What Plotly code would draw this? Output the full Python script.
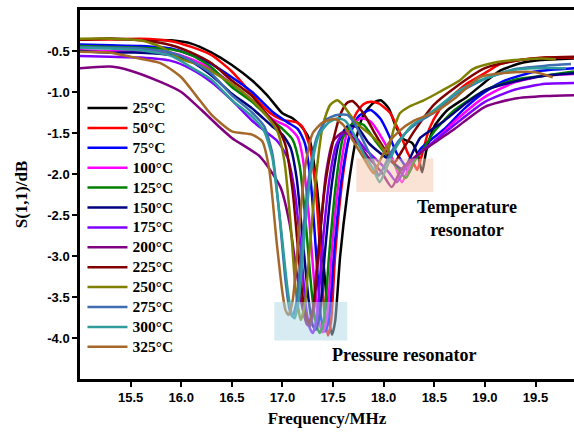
import plotly.graph_objects as go

# ---------------- data ----------------
temps = ["25°C", "50°C", "75°C", "100°C", "125°C", "150°C", "175°C",
         "200°C", "225°C", "250°C", "275°C", "300°C", "325°C"]
colors = ["#000000", "#FF0000", "#0000FF", "#FF00FF", "#008000", "#000080",
          "#8000FF", "#800080", "#800000", "#808000", "#3E6DB0", "#2E9C9C", "#A5682A"]

f25 = [15.0,15.3,15.6,15.9,16.1,16.3,16.5,16.7,16.85,17.0,17.1,17.2,17.27,17.34,17.41,17.46,17.49,17.52,17.57,17.64,17.72,17.8,17.9,17.97,18.05,18.12,18.2,18.28,18.34,18.38,18.42,18.5,18.63,18.82,19.0,19.15,19.35,19.55,19.88]
s25 = [-0.36,-0.35,-0.36,-0.37,-0.41,-0.52,-0.67,-0.86,-1.04,-1.26,-1.32,-1.44,-1.59,-2.15,-3.15,-3.8,-3.96,-3.8,-3.0,-2.25,-1.62,-1.28,-1.13,-1.10,-1.2,-1.42,-1.58,-1.62,-1.78,-1.98,-1.72,-1.42,-1.22,-1.06,-0.88,-0.74,-0.65,-0.61,-0.59]

f50 = [15.0,15.3,15.6,15.9,16.1,16.3,16.5,16.68,16.78,16.88,17.0,17.14,17.2,17.27,17.33,17.38,17.42,17.45,17.48,17.52,17.58,17.65,17.72,17.8,17.87,17.95,18.06,18.16,18.24,18.3,18.33,18.37,18.45,18.55,18.63,18.82,19.0,19.15,19.4,19.6,19.88]
s50 = [-0.36,-0.36,-0.35,-0.38,-0.45,-0.55,-0.75,-1.0,-1.14,-1.26,-1.34,-1.37,-1.43,-1.67,-2.2,-3.1,-3.75,-3.97,-3.8,-3.0,-2.2,-1.6,-1.28,-1.15,-1.12,-1.14,-1.25,-1.5,-1.75,-1.88,-1.95,-1.8,-1.45,-1.22,-1.1,-0.9,-0.77,-0.66,-0.6,-0.58,-0.58]

f75 = [15.0,15.3,15.6,15.9,16.1,16.3,16.5,16.7,16.9,17.05,17.15,17.22,17.28,17.34,17.38,17.42,17.46,17.51,17.58,17.66,17.75,17.87,17.97,18.06,18.13,18.2,18.25,18.3,18.36,18.45,18.6,18.8,19.0,19.2,19.5,19.88]
s75 = [-0.42,-0.43,-0.44,-0.47,-0.55,-0.66,-0.82,-1.0,-1.24,-1.37,-1.45,-1.62,-2.1,-3.1,-3.75,-3.92,-3.75,-2.95,-2.1,-1.55,-1.3,-1.22,-1.33,-1.55,-1.75,-1.88,-1.98,-1.85,-1.7,-1.6,-1.45,-1.2,-1.0,-0.86,-0.75,-0.71]

f100 = [15.0,15.3,15.6,15.9,16.1,16.3,16.5,16.7,16.9,17.05,17.15,17.2,17.26,17.32,17.36,17.40,17.44,17.49,17.56,17.64,17.77,17.87,18.0,18.1,18.18,18.25,18.35,18.5,18.7,19.0,19.3,19.6,19.88]
s100 = [-0.49,-0.5,-0.5,-0.52,-0.6,-0.72,-0.9,-1.1,-1.33,-1.42,-1.55,-1.8,-2.5,-3.4,-3.8,-3.93,-3.75,-2.9,-2.05,-1.5,-1.32,-1.36,-1.6,-1.85,-2.1,-1.92,-1.75,-1.6,-1.36,-1.06,-0.88,-0.8,-0.78]

f125 = [15.0,15.3,15.6,15.9,16.1,16.3,16.5,16.7,16.9,17.0,17.1,17.17,17.23,17.29,17.33,17.37,17.41,17.46,17.53,17.6,17.7,17.8,17.92,18.05,18.15,18.22,18.3,18.4,18.5,18.7,19.0,19.3,19.6,19.88]
s125 = [-0.44,-0.45,-0.46,-0.48,-0.55,-0.7,-0.94,-1.12,-1.35,-1.45,-1.58,-1.9,-2.6,-3.45,-3.82,-3.94,-3.78,-3.0,-2.1,-1.55,-1.38,-1.4,-1.6,-1.8,-1.95,-2.05,-1.85,-1.68,-1.48,-1.22,-0.98,-0.85,-0.8,-0.75]

f150 = [15.0,15.3,15.6,15.9,16.1,16.3,16.5,16.7,16.9,17.0,17.08,17.14,17.2,17.26,17.3,17.33,17.37,17.42,17.49,17.56,17.64,17.74,17.85,17.97,18.08,18.15,18.2,18.27,18.36,18.46,18.6,18.8,19.0,19.3,19.6,19.88]
s150 = [-0.5,-0.52,-0.52,-0.55,-0.63,-0.8,-1.02,-1.2,-1.42,-1.52,-1.68,-2.05,-2.8,-3.55,-3.85,-3.9,-3.7,-2.95,-2.1,-1.6,-1.42,-1.43,-1.62,-1.75,-1.85,-1.92,-1.95,-1.78,-1.56,-1.47,-1.35,-1.15,-0.98,-0.87,-0.8,-0.77]

f175 = [15.0,15.3,15.6,15.9,16.1,16.3,16.5,16.7,16.85,16.95,17.05,17.12,17.18,17.23,17.27,17.30,17.34,17.39,17.46,17.53,17.6,17.7,17.82,17.95,18.05,18.13,18.22,18.35,18.5,18.7,19.0,19.3,19.6,19.88]
s175 = [-0.56,-0.57,-0.58,-0.62,-0.72,-0.88,-1.1,-1.35,-1.5,-1.6,-1.8,-2.2,-2.9,-3.6,-3.88,-3.94,-3.75,-2.95,-2.1,-1.65,-1.5,-1.52,-1.7,-1.85,-1.98,-2.1,-1.92,-1.75,-1.6,-1.4,-1.12,-0.97,-0.9,-0.89]

f200 = [15.0,15.3,15.5,15.8,16.0,16.2,16.38,16.5,16.78,16.98,17.07,17.14,17.2,17.24,17.27,17.31,17.36,17.43,17.5,17.6,17.7,17.85,17.98,18.08,18.17,18.3,18.5,18.7,19.0,19.3,19.6,19.88]
s200 = [-0.71,-0.69,-0.74,-0.88,-1.0,-1.22,-1.43,-1.56,-1.79,-2.16,-2.6,-3.2,-3.65,-3.83,-3.86,-3.65,-2.9,-2.0,-1.6,-1.49,-1.56,-1.8,-1.98,-2.16,-1.95,-1.8,-1.62,-1.45,-1.18,-1.08,-1.05,-1.04]

f225 = [15.0,15.3,15.6,15.9,16.1,16.3,16.5,16.7,16.85,16.95,17.03,17.1,17.16,17.21,17.26,17.3,17.35,17.42,17.5,17.58,17.64,17.69,17.75,17.83,17.92,18.02,18.1,18.18,18.3,18.5,18.7,19.0,19.3,19.6,19.88]
s225 = [-0.36,-0.35,-0.37,-0.43,-0.52,-0.65,-0.86,-1.05,-1.28,-1.42,-1.65,-2.2,-3.0,-3.6,-3.82,-3.65,-3.0,-2.15,-1.6,-1.25,-1.13,-1.11,-1.18,-1.32,-1.52,-1.72,-1.87,-1.72,-1.48,-1.15,-0.95,-0.71,-0.62,-0.58,-0.57]

f250 = [15.0,15.3,15.6,15.8,16.0,16.2,16.5,16.7,16.85,16.95,17.02,17.08,17.13,17.18,17.22,17.27,17.33,17.40,17.47,17.54,17.6,17.67,17.75,17.85,17.95,18.03,18.1,18.16,18.25,18.4,18.55,18.75,18.88,19.1,19.3,19.55,19.7]
s250 = [-0.35,-0.35,-0.37,-0.45,-0.6,-0.68,-0.9,-1.1,-1.3,-1.48,-1.85,-2.6,-3.4,-3.78,-3.6,-2.9,-2.05,-1.4,-1.16,-1.10,-1.16,-1.28,-1.4,-1.5,-1.62,-1.75,-1.45,-1.26,-1.18,-1.1,-1.0,-0.86,-0.72,-0.64,-0.61,-0.59,-0.6]

f275 = [15.0,15.3,15.6,15.9,16.1,16.3,16.5,16.7,16.82,16.9,16.97,17.03,17.07,17.10,17.14,17.19,17.26,17.34,17.44,17.54,17.64,17.72,17.82,17.9,17.95,18.0,18.08,18.2,18.35,18.5,18.7,19.0,19.3,19.6,19.85]
s275 = [-0.45,-0.46,-0.47,-0.52,-0.62,-0.78,-1.04,-1.25,-1.42,-1.75,-2.5,-3.3,-3.65,-3.74,-3.55,-2.9,-2.05,-1.55,-1.33,-1.28,-1.28,-1.4,-1.65,-1.85,-2.02,-1.92,-1.72,-1.52,-1.36,-1.25,-1.04,-0.84,-0.72,-0.68,-0.66]

f300 = [15.0,15.3,15.6,15.9,16.1,16.3,16.5,16.7,16.82,16.9,16.98,17.05,17.09,17.12,17.16,17.21,17.28,17.36,17.46,17.55,17.62,17.7,17.8,17.9,17.96,18.02,18.1,18.26,18.5,18.75,18.95,19.28,19.5,19.8]
s300 = [-0.46,-0.47,-0.49,-0.56,-0.7,-0.85,-1.1,-1.3,-1.48,-1.8,-2.6,-3.4,-3.7,-3.76,-3.55,-2.85,-1.98,-1.52,-1.37,-1.32,-1.35,-1.5,-1.75,-1.95,-2.1,-1.95,-1.72,-1.43,-1.22,-0.98,-0.86,-0.73,-0.71,-0.71]

f325 = [15.0,15.3,15.5,15.8,16.0,16.15,16.3,16.5,16.7,16.8,16.87,16.94,17.0,17.03,17.06,17.1,17.15,17.22,17.3,17.4,17.52,17.6,17.7,17.8,17.9,17.97,18.05,18.15,18.3,18.5,18.7,18.95,19.28,19.5,19.67]
s325 = [-0.51,-0.52,-0.57,-0.65,-0.82,-1.05,-1.28,-1.48,-1.52,-1.6,-1.95,-2.8,-3.45,-3.66,-3.72,-3.55,-2.9,-1.95,-1.5,-1.37,-1.33,-1.4,-1.6,-1.8,-1.99,-1.82,-1.62,-1.48,-1.35,-1.25,-1.08,-0.82,-0.76,-0.76,-0.82]

freqs = [f25, f50, f75, f100, f125, f150, f175, f200, f225, f250, f275, f300, f325]
s11 = [s25, s50, s75, s100, s125, s150, s175, s200, s225, s250, s275, s300, s325]

x_ticks = [15.5, 16.0, 16.5, 17.0, 17.5, 18.0, 18.5, 19.0, 19.5]
x_labels = ["15.5", "16.0", "16.5", "17.0", "17.5", "18.0", "18.5", "19.0", "19.5"]
y_ticks = [-0.5, -1.0, -1.5, -2.0, -2.5, -3.0, -3.5, -4.0]
y_labels = ["-0.5", "-1.0", "-1.5", "-2.0", "-2.5", "-3.0", "-3.5", "-4.0"]

# highlight boxes (data coordinates)
press_box = dict(x0=16.92, x1=17.64, y0=-4.03, y1=-3.56)
temp_box = dict(x0=17.73, x1=18.49, y0=-2.22, y1=-1.81)

# ---------------- figure ----------------
SERIF = "Liberation Serif, Times New Roman, serif"
SANS = "Liberation Sans, Arial, sans-serif"

fig = go.Figure()
for name, col, fx, sy in zip(temps, colors, freqs, s11):
    fig.add_trace(go.Scatter(
        x=fx, y=sy, mode="lines",
        name="<span style='font-size:15.5px'><b>" + name + "</b></span>",
        line=dict(color=col, width=2.5, shape="spline", smoothing=0.6),
    ))

fig.add_shape(type="rect", xref="x", yref="y", layer="above",
              fillcolor="rgba(173,216,230,0.5)", line=dict(width=0), **press_box)
fig.add_shape(type="rect", xref="x", yref="y", layer="above",
              fillcolor="rgba(245,200,170,0.5)", line=dict(width=0), **temp_box)

fig.add_annotation(x=18.82, y=-2.54, xref="x", yref="y", showarrow=False,
                   text="<b>Temperature<br>resonator</b>",
                   font=dict(family=SERIF, size=18, color="black"))
fig.add_annotation(x=18.20, y=-4.21, xref="x", yref="y", showarrow=False,
                   text="<b>Pressure resonator</b>",
                   font=dict(family=SERIF, size=18, color="black"))

fig.update_layout(
    width=574, height=436,
    margin=dict(l=80, r=0, t=10, b=57),
    paper_bgcolor="white", plot_bgcolor="white",
    showlegend=True,
    legend=dict(x=0.005, y=0.775, xanchor="left", yanchor="top",
                bgcolor="rgba(0,0,0,0)", borderwidth=0,
                font=dict(family=SERIF, size=13, color="black"),
                itemwidth=40, tracegroupgap=0),
)
fig.update_xaxes(
    range=[15.0, 19.88], tickmode="array", tickvals=x_ticks,
    ticktext=["<b>" + t + "</b>" for t in x_labels],
    ticks="outside", ticklen=5, tickwidth=2, tickcolor="black",
    showline=True, linewidth=2.5, linecolor="black", mirror=True,
    showgrid=False, zeroline=False,
    tickfont=dict(family=SANS, size=13, color="black"),
    title=dict(text="<b>Frequency/MHz</b>", standoff=8,
               font=dict(family=SERIF, size=17, color="black")),
)
fig.update_yaxes(
    range=[-4.5, 0.0], tickmode="array", tickvals=y_ticks,
    ticktext=["<b>" + t + "</b>" for t in y_labels],
    ticks="outside", ticklen=5, tickwidth=2, tickcolor="black",
    showline=True, linewidth=2.5, linecolor="black", mirror=False,
    showgrid=False, zeroline=False,
    tickfont=dict(family=SANS, size=13, color="black"),
    title=dict(text="<b>S(1,1)/dB</b>", standoff=16,
               font=dict(family=SERIF, size=17, color="black")),
)

fig.write_html("out.html")
